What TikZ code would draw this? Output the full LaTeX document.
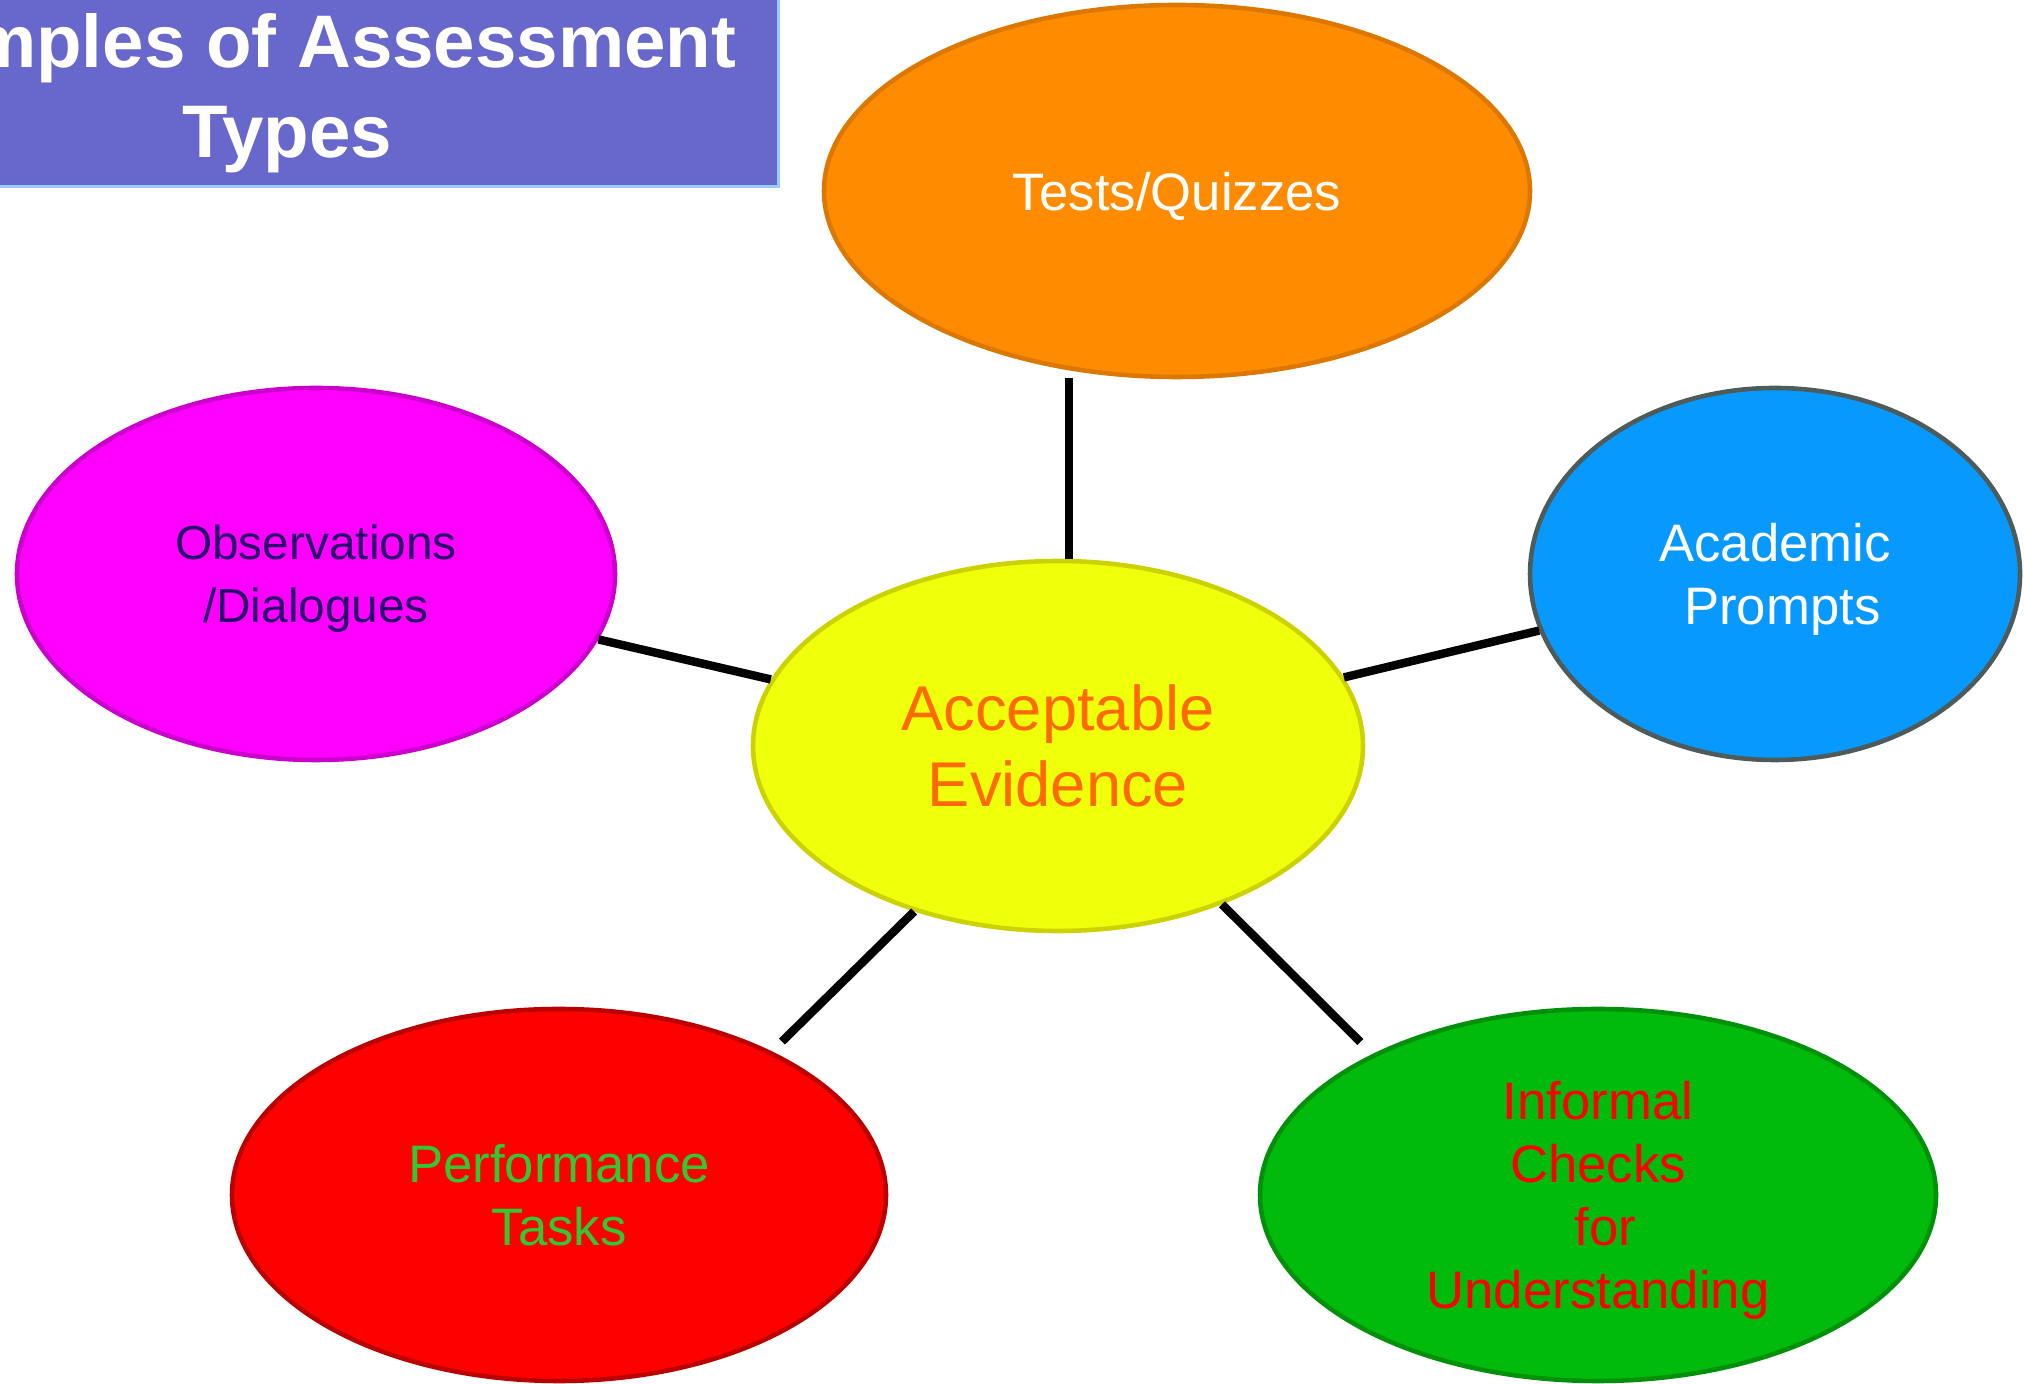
\documentclass[tikz,border=0pt]{standalone}
\usepackage{fontspec}
\setmainfont{Liberation Sans}
\usetikzlibrary{shapes.geometric}

\definecolor{titlefill}{RGB}{104,104,204}
\definecolor{titleline}{RGB}{153,204,255}
\definecolor{testsfill}{RGB}{255,140,0}
\definecolor{testsdraw}{RGB}{220,120,0}
\definecolor{obsfill}{RGB}{255,0,255}
\definecolor{obsdraw}{RGB}{204,0,204}
\definecolor{obstext}{RGB}{40,0,110}
\definecolor{acadfill}{RGB}{8,153,255}
\definecolor{acaddraw}{RGB}{77,91,91}
\definecolor{accfill}{RGB}{240,255,10}
\definecolor{accdraw}{RGB}{204,210,0}
\definecolor{acctext}{RGB}{255,106,0}
\definecolor{perffill}{RGB}{255,0,0}
\definecolor{perfdraw}{RGB}{187,0,0}
\definecolor{perftext}{RGB}{50,200,50}
\definecolor{infmfill}{RGB}{0,187,12}
\definecolor{infmdraw}{RGB}{0,144,10}
\definecolor{infmtext}{RGB}{255,0,0}

\tikzstyle{bubble} = [shape=ellipse,draw,line width=1.3pt,inner sep=0pt,text depth=0pt,align=center,font=\fontsize{15}{18}\selectfont]
\tikzstyle{link} = [draw,line width=2.4pt,-]
\tikzstyle{titlebox} = [shape=rectangle,fill=titlefill,text=white,align=center,font=\fontsize{21.2}{25.6}\selectfont\bfseries]

\begin{document}
\begin{tikzpicture}
      [titleedge/.style={draw=titleline,line width=1pt}]
      \clip (0,0) rectangle (20.24,13.83);
      %% heading box, runs off the top left corner
      \node (title) at (2.87,12.90) [titlebox,minimum width=9.82cm,minimum height=1.86cm]
        {Examples of Assessment\\Types};
      \draw[titleedge] (title.north east) -- (title.south east) -- (title.south west);

      %% centre bubble
      \node (accept) at (10.58,6.37) [bubble,minimum width=6.10cm,minimum height=3.70cm,
        fill=accfill,draw=accdraw,text=acctext,font=\fontsize{18}{21.6}\selectfont]
        {Acceptable\\Evidence};

      %% outer bubbles
      \foreach \nodename/\x/\y/\bwidth/\fillc/\drawc/\textc/\size/\label in {
        tests/11.77/11.92/7.06/testsfill/testsdraw/white/15/{Tests/Quizzes},
        obs/3.16/8.09/5.98/obsfill/obsdraw/obstext/13.6/{Observations\\/Dialogues},
        acad/17.75/8.09/4.90/acadfill/acaddraw/white/15/{Academic\\~Prompts},
        perf/5.59/1.88/6.54/perffill/perfdraw/perftext/15/{Performance\\Tasks},
        infm/15.98/1.88/6.76/infmfill/infmdraw/infmtext/15/{Informal\\Checks\\~for\\Understanding}}
      {
        \node (\nodename) at (\x,\y) [bubble,minimum width=\bwidth cm,minimum height=3.72cm,
          fill=\fillc,draw=\drawc,text=\textc,font=\fontsize{\size}{18}\selectfont] {\label};
      }

      %% spokes
      \draw[link] (accept) -- (obs);
      \draw[link] (accept) -- (acad);
      \draw[link,shorten <=0.08cm] (tests.239) -- (tests.239 |- accept.north);
      \draw[link,shorten >=0.14cm] (accept.229) -- (perf.34);
      \draw[link,shorten >=0.17cm] (accept.316) -- (infm.148);
\end{tikzpicture}
\end{document}
